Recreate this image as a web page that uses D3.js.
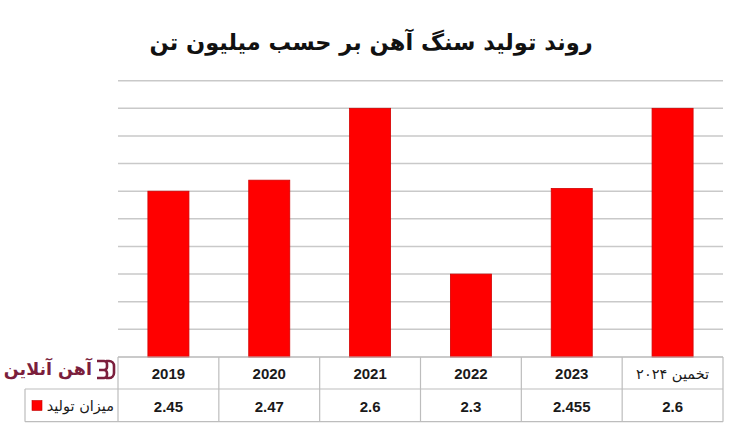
<!DOCTYPE html>
<html><head><meta charset="utf-8">
<script src="https://cdn.jsdelivr.net/npm/d3@7"></script>
<style>html,body{margin:0;padding:0;background:#fff;}svg{display:block;}</style>
</head><body>
<script>
const titleText = "روند تولید سنگ آهن بر حسب میلیون تن";
const categories = ["2019", "2020", "2021", "2022", "2023", "تخمین ۲۰۲۴"];
const values = [2.45, 2.47, 2.6, 2.3, 2.455, 2.6];
const valueLabels = ["2.45", "2.47", "2.6", "2.3", "2.455", "2.6"];
const seriesName = "میزان تولید";
const gridTicks = [2.15, 2.2, 2.25, 2.3, 2.35, 2.4, 2.45, 2.5, 2.55, 2.6, 2.65];
const logoText = "آهن آنلاین";

(function () {
const W = 736, H = 429;
const svg = d3.select("body").append("svg").attr("width", W).attr("height", H);

const pL = 118, pR = 723, pT = 80.7, pB = 357;
const y = d3.scaleLinear().domain([2.15, 2.65]).range([pB, pT]);
const xCell = d3.scaleBand().domain(categories).range([pL, pR]);
const xBar = d3.scaleBand().domain(categories).range([pL, pR]).paddingInner(0.593).paddingOuter(0.2965);

// title
svg.append("text").attr("x", 371).attr("y", 50).attr("text-anchor", "middle")
  .attr("direction", "rtl")
  .style("font-family", "'DejaVu Sans', sans-serif").style("font-weight", "bold")
  .style("font-size", "22.5px").attr("fill", "#111").text(titleText);

// gridlines
svg.append("g").selectAll("line").data(gridTicks).join("line")
  .attr("x1", pL).attr("x2", pR)
  .attr("y1", d => y(d)).attr("y2", d => y(d))
  .attr("stroke", "#c9c9c9").attr("stroke-width", 1.5);

// bars
svg.append("g").selectAll("rect").data(values).join("rect")
  .attr("x", (d, i) => xBar(categories[i]))
  .attr("width", xBar.bandwidth())
  .attr("y", d => y(d))
  .attr("height", d => y(2.15) - y(d))
  .attr("fill", "#ff0000").attr("stroke", "#d40000").attr("stroke-width", 0.8);

// table
const rowTop = 357, rowMid = 389, rowBot = 421.7, legLeft = 25;
const tg = svg.append("g").attr("stroke", "#bdbdbd").attr("stroke-width", 1.2);
tg.append("line").attr("x1", pL).attr("x2", pR).attr("y1", rowTop).attr("y2", rowTop);
tg.append("line").attr("x1", legLeft).attr("x2", pR).attr("y1", rowMid).attr("y2", rowMid);
tg.append("line").attr("x1", legLeft).attr("x2", pR).attr("y1", rowBot).attr("y2", rowBot);
tg.append("line").attr("x1", legLeft).attr("x2", legLeft).attr("y1", rowMid).attr("y2", rowBot);
const bounds = categories.map(c => xCell(c)).concat([pR]);
tg.selectAll("line.v").data(bounds).join("line").attr("class", "v")
  .attr("x1", d => d).attr("x2", d => d).attr("y1", rowTop).attr("y2", rowBot);

// header labels
svg.append("g").selectAll("text").data(categories).join("text")
  .attr("x", d => xCell(d) + xCell.bandwidth() / 2)
  .attr("y", 378.5).attr("text-anchor", "middle")
  .attr("direction", (d, i) => i === 5 ? "rtl" : "ltr")
  .style("font-family", (d, i) => i === 5 ? "'DejaVu Sans', sans-serif" : "'Liberation Sans', Arial, sans-serif")
  .style("font-weight", (d, i) => i === 5 ? "normal" : "bold")
  .style("font-size", (d, i) => i === 5 ? "14.5px" : "15px")
  .attr("fill", "#1a1a1a").text(d => d);

// value labels
svg.append("g").selectAll("text").data(valueLabels).join("text")
  .attr("x", (d, i) => xCell(categories[i]) + xCell.bandwidth() / 2)
  .attr("y", 411.5).attr("text-anchor", "middle")
  .style("font-family", "'Liberation Sans', Arial, sans-serif")
  .style("font-weight", "bold").style("font-size", "15px")
  .attr("fill", "#1a1a1a").text(d => d);

// legend
svg.append("rect").attr("x", 32).attr("y", 400.5).attr("width", 10).attr("height", 10)
  .attr("fill", "#ff0000").attr("stroke", "#c00000").attr("stroke-width", 0.6);
svg.append("text").attr("x", 114).attr("y", 410.5).attr("text-anchor", "start")
  .attr("direction", "rtl")
  .style("font-family", "'DejaVu Sans', sans-serif").style("font-size", "14.5px")
  .attr("fill", "#1a1a1a").text(seriesName);

// logo
const logo = svg.append("g");
logo.append("text").attr("x", 92).attr("y", 375).attr("text-anchor", "start")
  .attr("direction", "rtl")
  .style("font-family", "'DejaVu Sans', sans-serif").style("font-weight", "bold")
  .style("font-size", "17.5px").attr("fill", "#7b1e3c").text(logoText);
const ic = logo.append("g").attr("fill", "none").attr("stroke", "#7b1e3c").attr("stroke-width", 2.6);
ic.append("path").attr("d", "M97,361 h7 a3,3 0 0 1 3,3 v3 a3,3 0 0 1 -3,3 h-5 M99,370 h5 a3,3 0 0 1 3,3 v2 a3,3 0 0 1 -3,3 h-7");
ic.append("path").attr("d", "M106,361 h3 a5,5 0 0 1 5,5 v7 a5,5 0 0 1 -5,5 h-3");
})();
</script>
</body></html>
